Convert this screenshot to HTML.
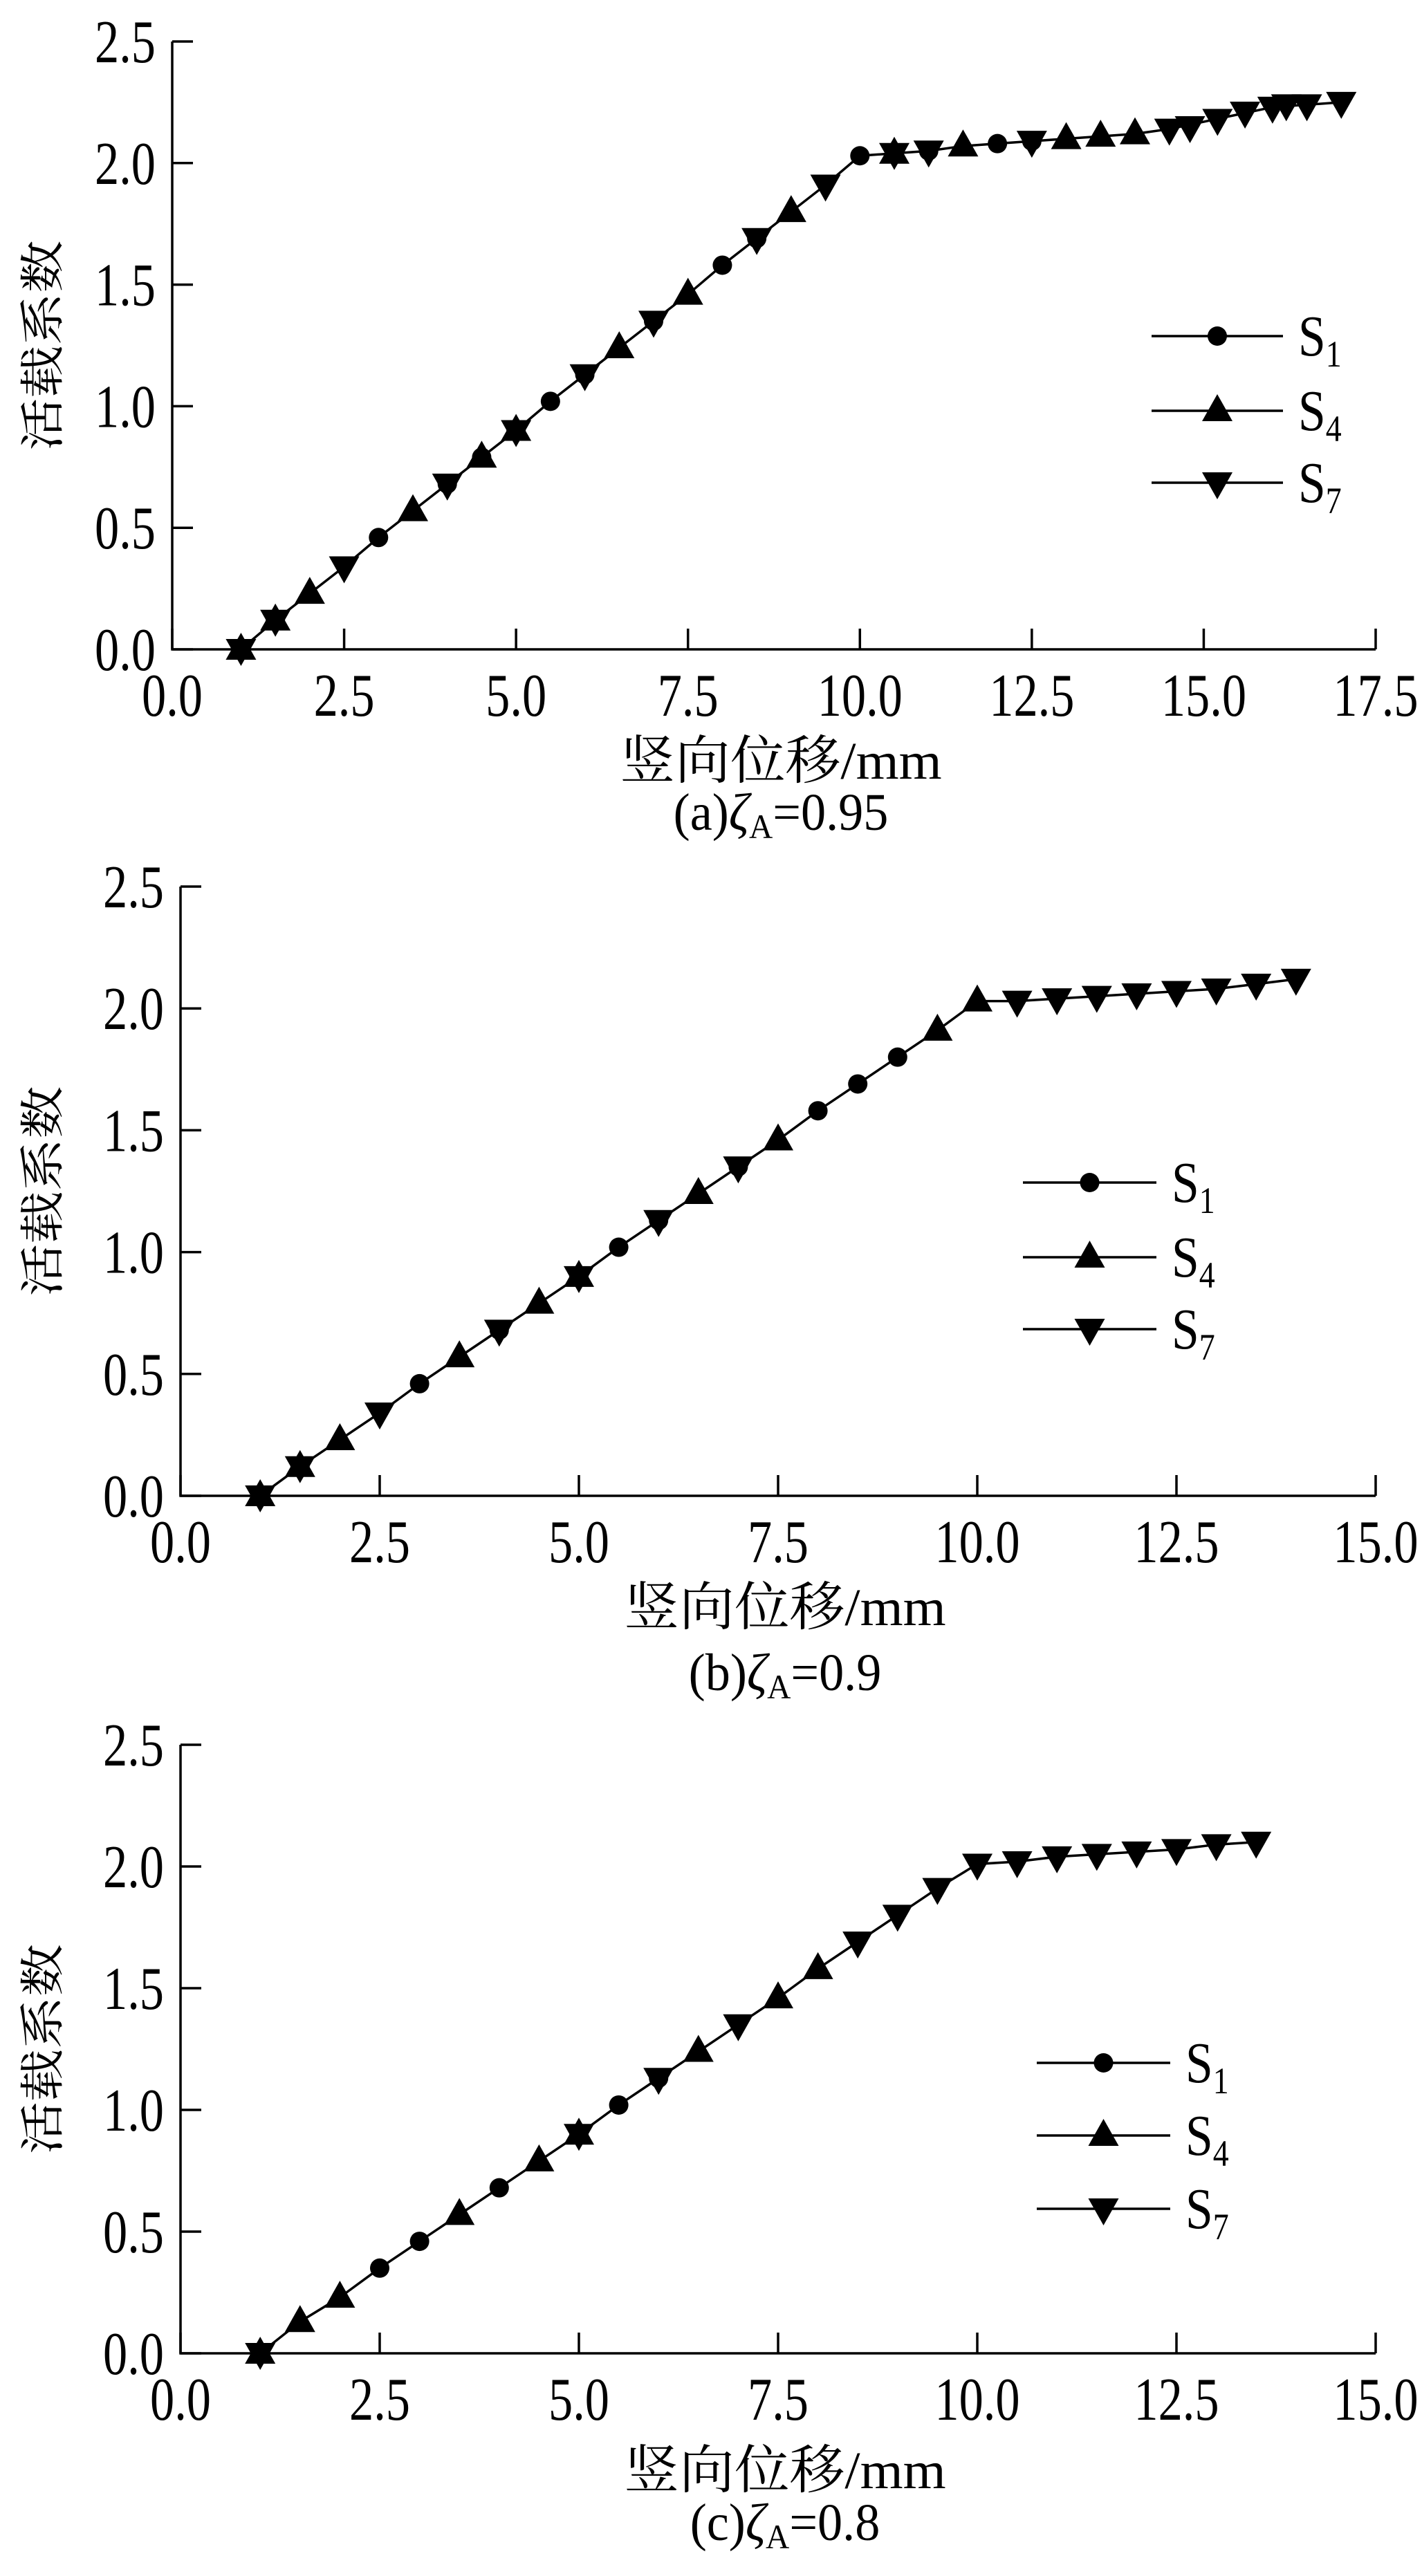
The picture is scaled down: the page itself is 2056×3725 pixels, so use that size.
<!DOCTYPE html>
<html><head><meta charset="utf-8"><style>
html,body{margin:0;padding:0;background:#fff;}
svg{display:block;}
text{font-family:"Liberation Serif","Noto Serif CJK SC",serif;fill:#000;}
</style></head><body>
<svg id="fig" width="2056" height="3725" viewBox="0 0 2056 3725" xmlns="http://www.w3.org/2000/svg"></svg>
<script>
// ---- data ----
const yTicks = [0,0.5,1.0,1.5,2.0,2.5];
const xTicksA = [0,2.5,5,7.5,10,12.5,15,17.5];
const xTicksB = [0,2.5,5,7.5,10,12.5,15];
const xTicksC = [0,2.5,5,7.5,10,12.5,15];
const seriesNames = ["S1","S4","S7"];

// shared curve through all points (line)
const aCurveX = [1,1.5,2,2.5,3,3.5,4,4.5,5,5.5,6,6.5,7,7.5,8,8.5,9,9.5,10,10.5,11,11.5,12,12.5,13,13.5,14,14.5,15,15.5,16,16.5,17];
const aCurveY = [0,0.12,0.23,0.34,0.46,0.57,0.68,0.79,0.90,1.02,1.13,1.24,1.35,1.46,1.58,1.69,1.80,1.91,2.03,2.04,2.05,2.07,2.08,2.09,2.10,2.11,2.12,2.14,2.17,2.20,2.23,2.24,2.25];
const bCurveX = [1,1.5,2,2.5,3,3.5,4,4.5,5,5.5,6,6.5,7,7.5,8,8.5,9,9.5,10,10.5,11,11.5,12,12.5,13,13.5,14];
const bCurveY = [0,0.12,0.23,0.34,0.46,0.57,0.68,0.79,0.90,1.02,1.13,1.24,1.35,1.46,1.58,1.69,1.80,1.91,2.03,2.03,2.04,2.05,2.06,2.07,2.08,2.10,2.12];
const cCurveX = [1,1.5,2,2.5,3,3.5,4,4.5,5,5.5,6,6.5,7,7.5,8,8.5,9,9.5,10,10.5,11,11.5,12,12.5,13,13.5];
const cCurveY = [0,0.13,0.23,0.35,0.46,0.57,0.68,0.79,0.90,1.02,1.13,1.24,1.35,1.46,1.58,1.69,1.80,1.91,2.01,2.02,2.04,2.05,2.06,2.07,2.09,2.10];

const aS1x = [1,1.5,3,4,4.5,5,5.5,6,7,8,8.5,10,10.5,11,12,12.5];
const aS1y = [0,0.12,0.46,0.68,0.79,0.90,1.02,1.13,1.35,1.58,1.69,2.03,2.04,2.05,2.08,2.09];
const aS4x = [1,1.5,2,3.5,4.5,5,6.5,7.5,9,10.5,11.5,13,13.5,14];
const aS4y = [0,0.12,0.23,0.57,0.79,0.90,1.24,1.46,1.80,2.04,2.07,2.10,2.11,2.12];
const aS7x = [1,1.5,2.5,4,5,6,7,8.5,9.5,10.5,11,12.5,14.5,14.8,15.2,15.6,16,16.2,16.5,17];
const aS7y = [0,0.12,0.34,0.68,0.90,1.13,1.35,1.69,1.91,2.04,2.05,2.09,2.14,2.15,2.18,2.21,2.23,2.24,2.24,2.25];

const bS1x = [1,1.5,3,4,5,5.5,6,7,8,8.5,9];
const bS1y = [0,0.12,0.46,0.68,0.90,1.02,1.13,1.35,1.58,1.69,1.80];
const bS4x = [1,1.5,2,3.5,4.5,5,6.5,7.5,9.5,10];
const bS4y = [0,0.12,0.23,0.57,0.79,0.90,1.24,1.46,1.91,2.03];
const bS7x = [1,1.5,2.5,4,5,6,7,10.5,11,11.5,12,12.5,13,13.5,14];
const bS7y = [0,0.12,0.34,0.68,0.90,1.13,1.35,2.03,2.04,2.05,2.06,2.07,2.08,2.10,2.12];

const cS1x = [1,2.5,3,4,5,5.5,6];
const cS1y = [0,0.35,0.46,0.68,0.90,1.02,1.13];
const cS4x = [1,1.5,2,3.5,4.5,5,6.5,7.5,8];
const cS4y = [0,0.13,0.23,0.57,0.79,0.90,1.24,1.46,1.58];
const cS7x = [1,5,6,7,8.5,9,9.5,10,10.5,11,11.5,12,12.5,13,13.5];
const cS7y = [0,0.90,1.13,1.35,1.69,1.80,1.91,2.01,2.02,2.04,2.05,2.06,2.07,2.09,2.10];

const NS = "http://www.w3.org/2000/svg";
const svg = document.getElementById('fig');
function el(tag, attrs, parent){
  const e = document.createElementNS(NS, tag);
  for (const k in attrs) e.setAttribute(k, attrs[k]);
  (parent||svg).appendChild(e);
  return e;
}
function marker(g, kind, px, py){
  let m;
  if (kind===0){ m = el('circle',{cx:px,cy:py,r:14,fill:'#000'},g); }
  else if (kind===1){ m = el('polygon',{points:`${px},${py-24} ${px-22},${py+15} ${px+22},${py+15}`,fill:'#000'},g); }
  else { m = el('polygon',{points:`${px},${py+24} ${px-22},${py-15} ${px+22},${py-15}`,fill:'#000'},g); }
  return m;
}

function panel(cfg){
  const g = el('g',{});
  
  
  const xMax = cfg.xTicks[cfg.xTicks.length-1];
  const X = v => cfg.L + (v/xMax)*(cfg.R-cfg.L);
  const Y = v => cfg.B - (v/2.5)*(cfg.B-cfg.T);
  const ax = el('path',{d:`M${cfg.L},${cfg.T} L${cfg.L},${cfg.B} L${cfg.R},${cfg.B}`,stroke:'#000','stroke-width':3.5,fill:'none'},g);
  
  
  yTicks.forEach(v=>{
    el('line',{x1:cfg.L,x2:cfg.L+30,y1:Y(v),y2:Y(v),stroke:'#000','stroke-width':3.5},g);
    const t = el('text',{x:0,y:0,'font-size':88,'text-anchor':'end',transform:`translate(${cfg.L-24},${Y(v)+30}) scale(0.8,1)`},g);
    t.textContent = v.toFixed(1);
    
    
  });
  cfg.xTicks.forEach(v=>{
    el('line',{x1:X(v),x2:X(v),y1:cfg.B,y2:cfg.B-30,stroke:'#000','stroke-width':3.5},g);
    const t = el('text',{x:0,y:0,'font-size':88,'text-anchor':'middle',transform:`translate(${X(v)},${cfg.B+96}) scale(0.8,1)`},g);
    t.textContent = v.toFixed(1);
    
    
  });
  const yt = el('text',{x:0,y:0,'font-size':76,'text-anchor':'middle',transform:`translate(84,${(cfg.T+cfg.B)/2}) rotate(-90) scale(1,0.85)`},g);
  yt.textContent = '活载系数';
  
  
  const xt = el('text',{x:0,y:0,'font-size':76,'text-anchor':'middle',transform:`translate(${(cfg.L+cfg.R)/2+10},${cfg.xtY}) scale(1.05,1)`},g);
  xt.textContent = '竖向位移/mm';
  
  
  const cap = el('text',{x:0,y:0,'font-size':76,'text-anchor':'middle',transform:`translate(${(cfg.L+cfg.R)/2+10},${cfg.capY}) scale(0.95,1)`},g);
  cap.innerHTML = `(${cfg.id})<tspan font-style="italic">ζ</tspan><tspan font-size="50" dy="12">A</tspan><tspan dy="-12">=${cfg.zeta}</tspan>`;
  
  
  const cl = el('polyline',{points:cfg.curveX.map((xv,j)=>`${X(xv)},${Y(cfg.curveY[j])}`).join(' '),fill:'none',stroke:'#000','stroke-width':3.5},g);
  
  
  cfg.series.forEach((s,i)=>{
    const sg = el('g',{},g);
    
    
    s.x.forEach((xv,j)=>{
      const m = marker(sg,i,X(xv),Y(s.y[j]));
      
      
    });
  });
  const lg = el('g',{},g);
  
  
  cfg.legY.forEach((ly,i)=>{
    const eg = el('g',{},lg);
    
    
    el('line',{x1:cfg.legX1,x2:cfg.legX2,y1:ly,y2:ly,stroke:'#000','stroke-width':3.5},eg);
    marker(eg,i,(cfg.legX1+cfg.legX2)/2,ly);
    const t = el('text',{x:0,y:0,'font-size':84,transform:`translate(${cfg.legX2+22},${ly+28}) scale(0.85,1)`},eg);
    t.innerHTML = `S<tspan font-size="54" dy="16">${seriesNames[i].slice(1)}</tspan>`;
  });
}

panel({id:'a',zeta:'0.95',L:249,R:1989,T:60,B:939,xTicks:xTicksA,xtY:1126,capY:1200,
  curveX:aCurveX,curveY:aCurveY,
  legX1:1665,legX2:1855,legY:[486,594,698],
  series:[{x:aS1x,y:aS1y},{x:aS4x,y:aS4y},{x:aS7x,y:aS7y}]});
panel({id:'b',zeta:'0.9',L:261,R:1989,T:1282,B:2163,xTicks:xTicksB,xtY:2350,capY:2444,
  curveX:bCurveX,curveY:bCurveY,
  legX1:1479,legX2:1672,legY:[1710,1818,1922],
  series:[{x:bS1x,y:bS1y},{x:bS4x,y:bS4y},{x:bS7x,y:bS7y}]});
panel({id:'c',zeta:'0.8',L:261,R:1989,T:2523,B:3403,xTicks:xTicksC,xtY:3598,capY:3673,
  curveX:cCurveX,curveY:cCurveY,
  legX1:1499,legX2:1692,legY:[2983,3088,3194],
  series:[{x:cS1x,y:cS1y},{x:cS4x,y:cS4y},{x:cS7x,y:cS7y}]});
</script>
</body></html>
